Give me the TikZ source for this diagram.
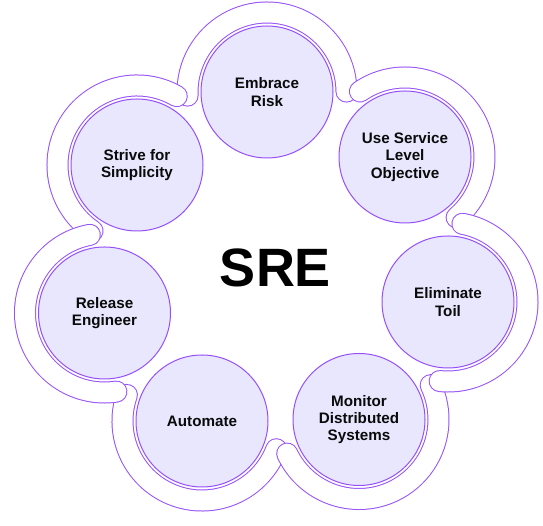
\documentclass[tikz,border=0pt]{standalone}
\usepackage{fontspec}
\setmainfont{Liberation Sans}
\definecolor{ringc}{RGB}{150,80,250}
\definecolor{fillc}{RGB}{233,231,253}
\definecolor{txtc}{RGB}{10,10,10}
\tikzset{
  bandout/.style={draw=ringc, line width=22pt, line cap=round},
  bandin/.style={draw=white, line width=20pt, line cap=round},
  topic/.style={circle, minimum size=132pt, inner sep=0pt, fill=fillc, draw=ringc,
    line width=1pt, text=txtc, align=center,
    font=\bfseries\fontsize{15.2}{17.3}\selectfont},
  title/.style={text=black, font=\bfseries\fontsize{54}{54}\selectfont, inner sep=0pt}
}
\newcommand\drawband[3]{%
  \draw[bandout] ([shift={(#2:79.5)}]#1) arc[start angle=#2, end angle=#3, radius=79.5];
  \draw[bandin] ([shift={(#2:79.5)}]#1) arc[start angle=#2, end angle=#3, radius=79.5];
}
\begin{document}
\begin{tikzpicture}[x=1pt,y=1pt]
\useasboundingbox (0,0) rectangle (543,526);
\coordinate (E) at (267,434);
\coordinate (U) at (405,369);
\coordinate (T) at (448,224);
\coordinate (M) at (359,106.5);
\coordinate (A) at (202,105);
\coordinate (R) at (104.5,213);
\coordinate (S) at (137,361);
% bands, bottom ones first
\drawband{E}{0.3}{182.6}
\drawband{A}{160.9}{339.2}
\drawband{S}{60}{236}
\drawband{U}{-49.5}{124.5}
\drawband{M}{205.4}{385.6}
\drawband{R}{100.6}{278.6}
\drawband{T}{-96}{79.6}
% circles
\node[topic] (nE) at (E) {Embrace\\Risk};
\node[topic] (nU) at (U) {Use Service\\Level\\Objective};
\node[topic] (nT) at (T) {Eliminate\\Toil};
\node[topic] (nM) at (M) {Monitor\\Distributed\\Systems};
\node[topic] (nA) at (A) {Automate};
\node[topic] (nR) at (R) {Release\\Engineer};
\node[topic] (nS) at (S) {Strive for\\Simplicity};
\node[title] (sre) at (275.5,257.7) {SRE};
\end{tikzpicture}
\end{document}
